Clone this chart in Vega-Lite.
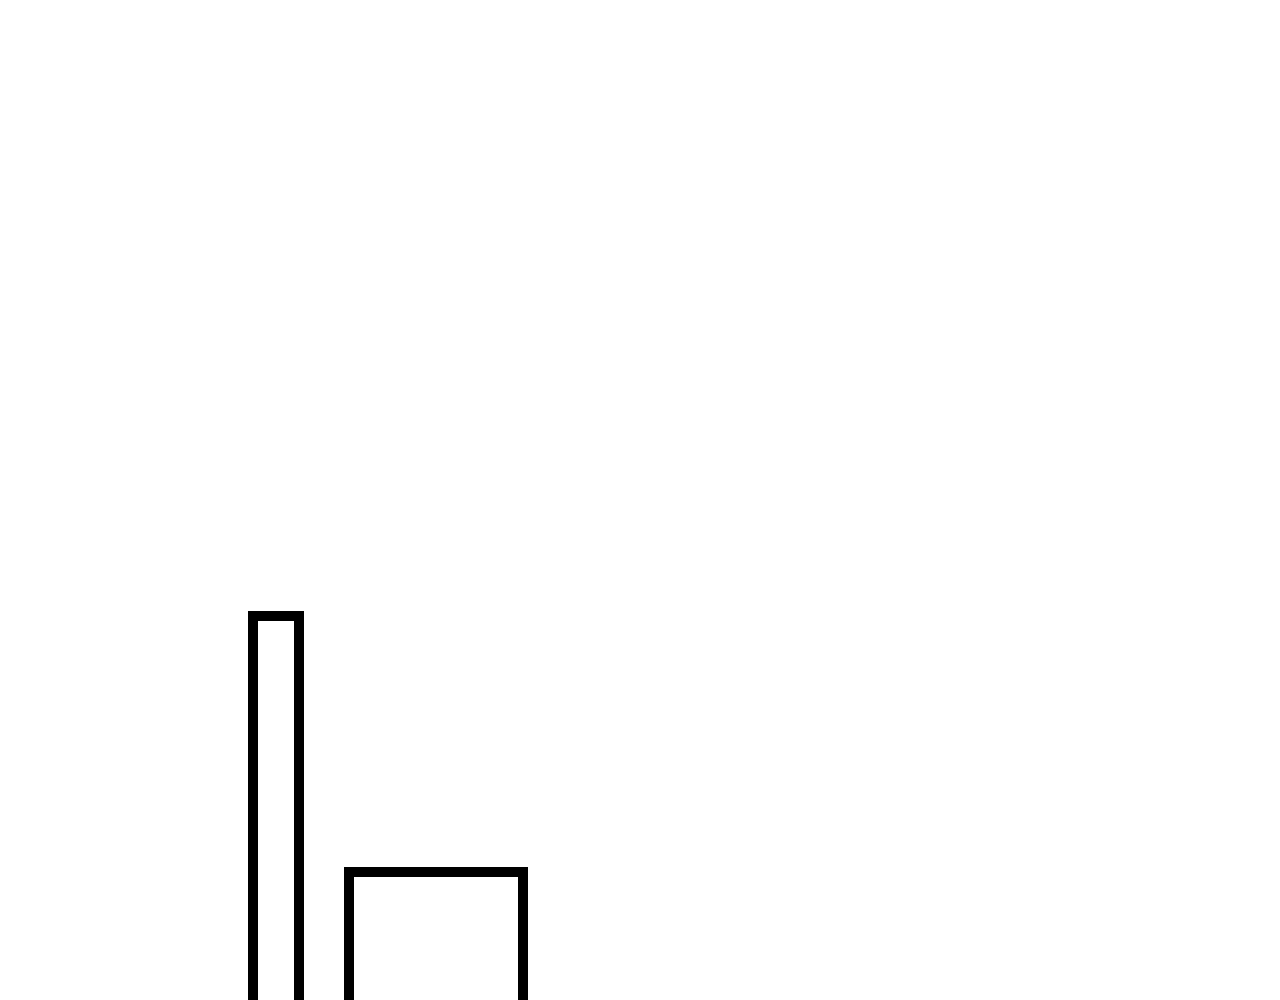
{
  "$schema": "https://vega.github.io/schema/vega-lite/v6.json",
  "width": 1280,
  "height": 1000,
  "autosize": {"type": "none"},
  "padding": 0,
  "background": "white",
  "config": {"view": {"stroke": null}},
  "data": {
    "values": [
      {"x0": 25.3, "x1": 29.9, "lo": -10, "hi": 38.4},
      {"x0": 34.9, "x1": 52.3, "lo": -10, "hi": 12.8}
    ]
  },
  "mark": {"type": "rect", "fill": "white", "stroke": "black", "strokeWidth": 10},
  "encoding": {
    "x": {"field": "x0", "type": "quantitative", "scale": {"domain": [0, 128], "nice": false, "zero": false}, "axis": null},
    "x2": {"field": "x1"},
    "y": {"field": "lo", "type": "quantitative", "scale": {"domain": [0, 100], "nice": false, "zero": false}, "axis": null},
    "y2": {"field": "hi"}
  }
}
